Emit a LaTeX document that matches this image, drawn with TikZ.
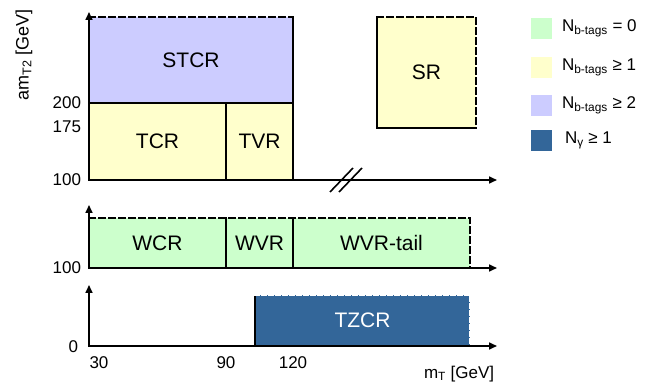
\documentclass[tikz,border=0pt]{standalone}
\usepackage{fontspec}
\setmainfont{Liberation Sans}
\usetikzlibrary{positioning,arrows.meta}

\definecolor{custcol_cc_ff_cc}{RGB}{204, 255, 204}
\definecolor{custcol_ff_ff_cc}{RGB}{255, 255, 204}
\definecolor{custcol_cc_cc_ff}{RGB}{204, 204, 255}
\definecolor{custcol_33_66_99}{RGB}{51, 102, 153}
\definecolor{custcol_0_0_0}{RGB}{0, 0, 0}

\tikzset{
  region/.style={inner sep=0, outer sep=0, anchor=north west, font=\fontsize{21pt}{24pt}\selectfont},
  edge/.style={line width=1.6pt, custcol_0_0_0},
  dashedge/.style={line width=1.6pt, dash pattern=on 6pt off 4pt},
  axisline/.style={line width=1.6pt, custcol_0_0_0, -{Triangle[length=8pt,width=7pt]}},
  ticklbl/.style={inner sep=0, outer sep=0, font=\fontsize{17pt}{20pt}\selectfont},
  legbox/.style={inner sep=0, outer sep=0, minimum width=21pt, minimum height=21pt, anchor=north west},
  legtxt/.style={inner sep=0, outer sep=0, anchor=west, font=\fontsize{17pt}{20pt}\selectfont}
}

\begin{document}
\begin{tikzpicture}[x=1pt,y=-1pt,line cap=rect]
\useasboundingbox (0,0) rectangle (670,387);

% top panel
\node[region, fill=custcol_cc_cc_ff, minimum width=204pt, minimum height=86pt] (stcr) at (89,17) {STCR};
\node[region, fill=custcol_ff_ff_cc, minimum width=137pt, minimum height=77pt] (tcr) at (89,103) {TCR};
\node[region, fill=custcol_ff_ff_cc, minimum width=67pt, minimum height=77pt] (tvr) at (226,103) {TVR};
\node[region, fill=custcol_ff_ff_cc, minimum width=99pt, minimum height=111pt] (sr) at (377,17) {SR};
\draw [edge] (stcr.north east) -- (tvr.south east);
\draw [edge] (stcr.south west) -- (stcr.south east);
\draw [edge] (tvr.north west) -- (tvr.south west);
\draw [edge, dashedge] (stcr.north west) -- (stcr.north east);
\draw [edge] (sr.north west) -- (sr.south west) -- (sr.south east);
\draw [edge, dashedge] (sr.north west) -- (sr.north east) -- (sr.south east);
\coordinate (o1) at (89,180);
\coordinate (y1) at (89,12);
\coordinate (x1) at (497,180);
\draw [axisline] (o1) -- (y1);
\draw [axisline] (o1) -- (x1);
\draw [edge, line cap=butt] (330,192) -- (353,168);
\draw [edge, line cap=butt] (339,192) -- (362,168);
\node[ticklbl, anchor=east] (lbl200) at (81,103) {200};
\node[ticklbl, anchor=east] (lbl175) at (81,127) {175};
\node[ticklbl, anchor=east] (lbl100a) at (81,180) {100};
\node[ticklbl, font=\fontsize{18pt}{20pt}\selectfont, rotate=90] (ylbl) at (24,55) {am\textsubscript{T2} [GeV]};

% middle panel
\node[region, fill=custcol_cc_ff_cc, minimum width=137pt, minimum height=50pt] (wcr) at (89,218) {WCR};
\node[region, fill=custcol_cc_ff_cc, minimum width=67pt, minimum height=50pt] (wvr) at (226,218) {WVR};
\node[region, fill=custcol_cc_ff_cc, minimum width=177pt, minimum height=50pt] (wvrtail) at (293,218) {WVR-tail};
\draw [edge] (wvr.north west) -- (wvr.south west);
\draw [edge] (wvrtail.north west) -- (wvrtail.south west);
\draw [edge, dashedge] (wcr.north west) -- (wvrtail.north east) -- (wvrtail.south east);
\coordinate (o2) at (89,268);
\coordinate (y2) at (89,205);
\coordinate (x2) at (497,268);
\draw [axisline] (o2) -- (y2);
\draw [axisline] (o2) -- (x2);
\node[ticklbl, anchor=east] (lbl100b) at (81,268) {100};

% bottom panel
\node[region, fill=custcol_33_66_99, text=white, minimum width=215pt, minimum height=51pt] (tzcr) at (255,295) {TZCR};
\draw [edge, line cap=butt] (tzcr.north west) -- (tzcr.south west);
\draw [line width=1.6pt, white, dash pattern=on 4pt off 3pt] (tzcr.north west) -- (tzcr.north east) -- (tzcr.south east);
\coordinate (o3) at (89,346);
\coordinate (y3) at (89,285);
\coordinate (x3) at (497,346);
\draw [axisline] (o3) -- (y3);
\draw [axisline] (o3) -- (x3);
\node[ticklbl, anchor=east] (lbl0) at (78,347) {0};
\node[ticklbl] (lbl30) at (99,363) {30};
\node[ticklbl] (lbl90) at (226,363) {90};
\node[ticklbl] (lbl120) at (293,363) {120};
\node[ticklbl, anchor=west] (xlbl) at (424,374) {m\textsubscript{T} [GeV]};

% legend
\node[legbox, fill=custcol_cc_ff_cc] (leg0) at (531,18) {};
\node[legbox, fill=custcol_ff_ff_cc] (leg1) at (531,57) {};
\node[legbox, fill=custcol_cc_cc_ff] (leg2) at (531,95) {};
\node[legbox, fill=custcol_33_66_99] (leg3) at (531,130) {};
\node[legtxt, right=10pt of leg0] (legtxt0) {N\textsubscript{b-tags} = 0};
\node[legtxt, right=10pt of leg1] (legtxt1) {N\textsubscript{b-tags} ≥ 1};
\node[legtxt, right=10pt of leg2] (legtxt2) {N\textsubscript{b-tags} ≥ 2};
\node[legtxt, right=13pt of leg3] (legtxt3) {N\textsubscript{γ} ≥ 1};
\end{tikzpicture}
\end{document}
